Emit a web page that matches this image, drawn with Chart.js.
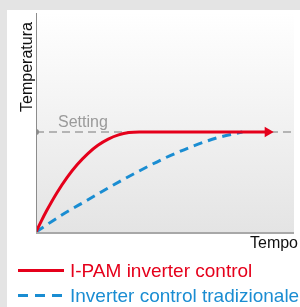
<!DOCTYPE html>
<html>
<head>
<meta charset="utf-8">
<script src="https://cdn.jsdelivr.net/npm/chart.js@4"></script>
<style>
  html, body { margin: 0; padding: 0; background: #e4e4e4; }
  #wrap { width: 300px; height: 307px; position: relative; }
</style>
</head>
<body>
<div id="wrap"><canvas id="tempChart" width="300" height="307"></canvas></div>
<script>
// data (x = time 0..100, y = temperature, setting = 100)
const seriesLabels = ["I-PAM inverter control", "Inverter control tradizionale"];
const ipamTime = [0, 2, 4, 8, 12, 16, 20, 24, 28, 32, 36, 40, 89.8];
const ipamTemp = [0, 10.7, 20.7, 38.8, 54.4, 67.5, 78.2, 86.7, 92.9, 97.1, 99.4, 100, 100];
const tradTime = [0, 10, 20, 30, 40, 50, 60, 70, 80];
const tradTemp = [0, 17, 32, 47, 61, 74, 85, 94, 100];
const settingTime = [0, 100];
const settingTemp = [100, 100];
const axisTitles = { x: "Tempo", y: "Temperatura", setting: "Setting" };

const RED = "#e5001b";
const BLUE = "#1a8dd2";
const GREY = "#a0a0a0";

function toPoints(xs, ys) {
    return xs.map((x, i) => ({ x: x, y: ys[i] }));
}

const decorPlugin = {
    id: "decor",
    beforeDraw(chart) {
        const ctx = chart.ctx;
        const a = chart.chartArea;
        ctx.save();
        ctx.fillStyle = "#e4e4e4";
        ctx.fillRect(0, 0, chart.width, chart.height);
        ctx.fillStyle = "#ffffff";
        ctx.fillRect(7, 10, chart.width - 7, chart.height - 10);
        const g = ctx.createLinearGradient(0, a.top, 0, a.bottom);
        g.addColorStop(0, "#ffffff");
        g.addColorStop(1, "#e4e4e4");
        ctx.fillStyle = g;
        ctx.fillRect(a.left, a.top, a.right - a.left, a.bottom - a.top);
        ctx.restore();
    },
    afterDatasetsDraw(chart) {
        const ctx = chart.ctx;
        const a = chart.chartArea;
        const ys = chart.scales.y;
        ctx.save();
        // axes
        ctx.strokeStyle = "#8c8c8c";
        ctx.lineWidth = 1;
        ctx.beginPath();
        ctx.moveTo(a.left + 0.5, a.top);
        ctx.lineTo(a.left + 0.5, a.bottom);
        ctx.stroke();
        ctx.strokeStyle = "#a8a8a8";
        ctx.lineWidth = 2;
        ctx.beginPath();
        ctx.moveTo(a.left, a.bottom + 1);
        ctx.lineTo(a.right, a.bottom + 1);
        ctx.stroke();

        // texts
        ctx.font = "16px 'Liberation Sans', Arial, sans-serif";
        ctx.fillStyle = "#111";
        ctx.textAlign = "right";
        ctx.textBaseline = "alphabetic";
        ctx.fillText(axisTitles.x, 298, 248);

        ctx.save();
        ctx.translate(32, 67);
        ctx.rotate(-Math.PI / 2);
        ctx.textAlign = "center";
        ctx.fillText(axisTitles.y, 0, 0);
        ctx.restore();

        ctx.fillStyle = "#9a9a9a";
        ctx.textAlign = "left";
        ctx.fillText(axisTitles.setting, 58, ys.getPixelForValue(settingTemp[0]) - 5);

        // legend
        const ds = chart.data.datasets;
        const rows = [270, 295];
        ctx.font = "19px 'Liberation Sans', Arial, sans-serif";
        for (let i = 0; i < 2; i++) {
            ctx.strokeStyle = ds[i].borderColor;
            ctx.lineWidth = 3;
            ctx.setLineDash(i === 1 ? [10, 7] : []);
            ctx.beginPath();
            ctx.moveTo(18, rows[i] + 0.5);
            ctx.lineTo(64, rows[i] + 0.5);
            ctx.stroke();
            ctx.setLineDash([]);
            ctx.fillStyle = ds[i].borderColor;
            ctx.fillText(ds[i].label, 70, rows[i] + 7);
        }
        ctx.restore();
    }
};

const chart = new Chart(document.getElementById("tempChart").getContext("2d"), {
    type: "line",
    data: {
        datasets: [
            {
                label: seriesLabels[0],
                data: toPoints(ipamTime, ipamTemp),
                borderColor: RED,
                backgroundColor: RED,
                borderWidth: 3,
                cubicInterpolationMode: "monotone",
                pointRadius: ipamTime.map((x, i) => i === ipamTime.length - 1 ? 6 : 0),
                pointStyle: "triangle",
                rotation: 90,
                pointBorderWidth: 0,
                pointBackgroundColor: RED
            },
            {
                label: seriesLabels[1],
                data: toPoints(tradTime, tradTemp),
                borderColor: BLUE,
                borderWidth: 3,
                borderDash: [9, 6],
                cubicInterpolationMode: "monotone",
                pointRadius: 0
            },
            {
                label: axisTitles.setting,
                data: toPoints(settingTime, settingTemp),
                borderColor: GREY,
                borderWidth: 1.5,
                borderDash: [8, 5],
                pointRadius: [3, 0],
                pointBorderWidth: 0,
                pointBackgroundColor: "#8c8c8c"
            }
        ]
    },
    options: {
        responsive: false,
        animation: false,
        layout: { padding: { left: 36, top: 13, right: 0, bottom: 75 } },
        plugins: {
            legend: { display: false },
            tooltip: { enabled: false }
        },
        scales: {
            x: { type: "linear", min: 0, max: 100, display: false },
            y: { min: 0, max: 219, display: false }
        }
    },
    plugins: [decorPlugin]
});
</script>
</body>
</html>
